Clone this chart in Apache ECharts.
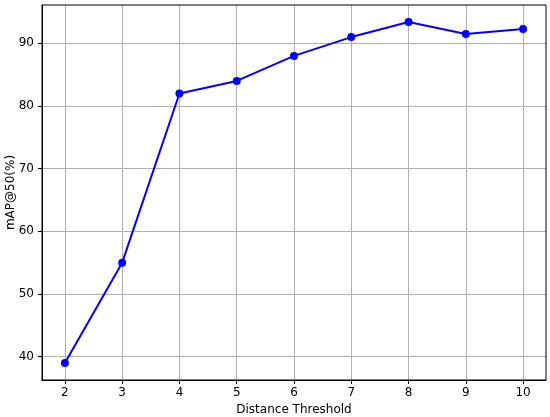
<!DOCTYPE html>
<html><head><meta charset="utf-8">
<script src="https://cdn.jsdelivr.net/npm/echarts@6/dist/echarts.min.js"></script>
<style>html,body{margin:0;padding:0;background:#fff}#c{width:550px;height:417px}</style>
</head><body><div id="c"></div>
<script>
var thresholds = [2, 3, 4, 5, 6, 7, 8, 9, 10];
var mapValues = [39, 55, 82, 84, 88, 91, 93.4, 91.5, 92.3];
var xTicks = [2, 3, 4, 5, 6, 7, 8, 9, 10];
var yTicks = [40, 50, 60, 70, 80, 90];

var chart = echarts.init(document.getElementById('c'), null, {renderer: 'canvas'});
var font = 'DejaVu Sans';
var data = thresholds.map(function (t, i) { return [t, mapValues[i]]; });
var xmin = 1.6, xmax = 10.4;
var ymin = 36.28, ymax = 96.12;
chart.setOption({
  animation: false,
  grid: {left: 42, right: 4, top: 5, bottom: 37, containLabel: false, outerBoundsMode: 'none'},
  xAxis: {
    type: 'value', min: xmin, max: xmax,
    name: 'Distance Threshold', nameLocation: 'middle', nameGap: 24, nameMoveOverlap: false,
    nameTextStyle: {fontFamily: font, fontSize: 12, color: '#000'},
    axisLine: {show: true, onZero: false, lineStyle: {color: '#000', width: 1}},
    axisTick: {show: true, length: 4, inside: false, customValues: xTicks, lineStyle: {color: '#000', width: 1}},
    axisLabel: {customValues: xTicks, margin: 7, fontFamily: font, fontSize: 12, color: '#000'},
    splitLine: {show: true, lineStyle: {color: '#b0b0b0', width: 1}}
  },
  yAxis: {
    type: 'value', min: ymin, max: ymax,
    name: 'mAP@50(%)', nameLocation: 'middle', nameGap: 25, nameRotate: 90, nameMoveOverlap: false,
    nameTextStyle: {fontFamily: font, fontSize: 12, color: '#000'},
    axisLine: {show: true, onZero: false, lineStyle: {color: '#000', width: 1}},
    axisTick: {show: true, length: 4, inside: false, customValues: yTicks, lineStyle: {color: '#000', width: 1}},
    axisLabel: {customValues: yTicks, margin: 8, fontFamily: font, fontSize: 12, color: '#000'},
    splitLine: {show: true, lineStyle: {color: '#b0b0b0', width: 1}}
  },
  series: [{
    type: 'line', data: data,
    symbol: 'circle', symbolSize: 8,
    itemStyle: {color: '#0000ff'},
    lineStyle: {color: '#0000ff', width: 2}
  }],
  graphic: [{
    type: 'rect', shape: {x: 42, y: 5, width: 504, height: 375},
    style: {fill: 'none', stroke: '#000', lineWidth: 1}, silent: true, z: 100
  }]
});
</script></body></html>
